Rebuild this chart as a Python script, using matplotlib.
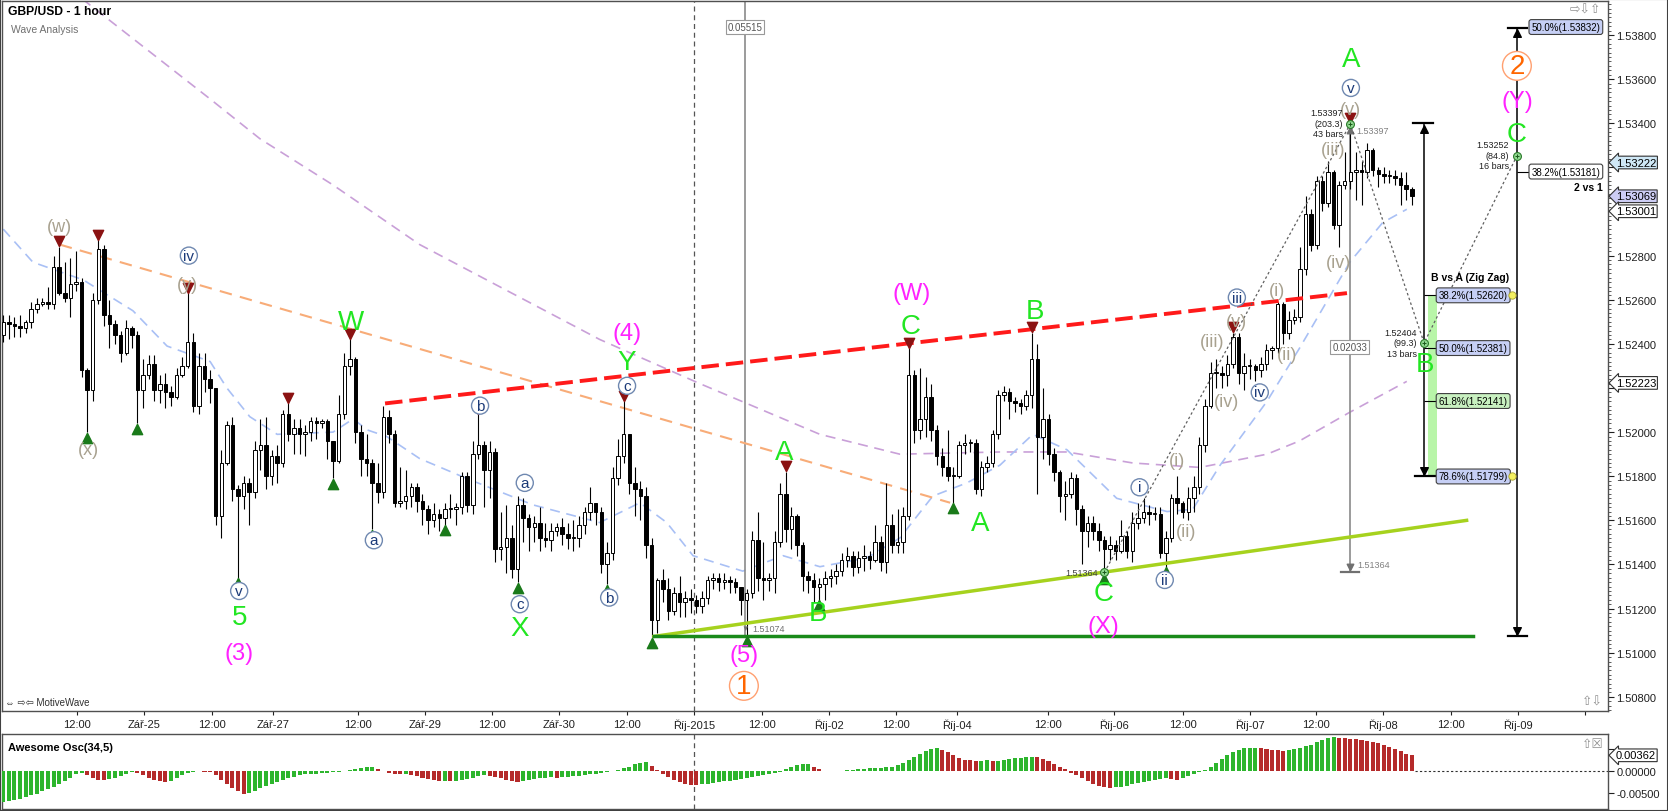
import numpy as np
import matplotlib.pyplot as plt
from matplotlib import transforms
from matplotlib.ticker import MultipleLocator

plt.rcParams['font.family'] = ['Liberation Sans', 'DejaVu Sans']
plt.rcParams['axes.unicode_minus'] = False

# GBP/USD hourly candles (open of each bar = previous close)
open_first = 1.5244
closes = [
    1.5250, 1.5249, 1.5248, 1.5247, 1.5250, 1.5256, 1.5258, 1.5259, 1.5258, 1.5275,
    1.5263, 1.5261, 1.5267, 1.5268, 1.5228, 1.5219, 1.5260, 1.5283, 1.5253, 1.5249,
    1.5244, 1.5236, 1.5247, 1.5244, 1.5219, 1.5226, 1.5231, 1.5219, 1.5222, 1.5218,
    1.5216, 1.5226, 1.5230, 1.5241, 1.5212, 1.5230, 1.5224, 1.5220, 1.5162, 1.5186,
    1.5203, 1.5174, 1.5171, 1.5177, 1.5173, 1.5192, 1.5194, 1.5180, 1.5189, 1.5186,
    1.5208, 1.5199, 1.5202, 1.5199, 1.5200, 1.5205, 1.5204, 1.5205, 1.5196, 1.5187,
    1.5208, 1.5230, 1.5233, 1.5200, 1.5188, 1.5186, 1.5177, 1.5173, 1.5207, 1.5199,
    1.5168, 1.5169, 1.5171, 1.5175,
    1.5169, 1.5165, 1.5160, 1.5163, 1.5161, 1.5165, 1.5165, 1.5166, 1.5180, 1.5167,
    1.5190, 1.5194, 1.5183, 1.5191, 1.5147, 1.5148, 1.5152, 1.5138, 1.5167, 1.5161,
    1.5157, 1.5159, 1.5152, 1.5151, 1.5155, 1.5157, 1.5154, 1.5152, 1.5152, 1.5158,
    1.5164, 1.5168, 1.5164, 1.5140, 1.5145, 1.5179, 1.5189, 1.5199, 1.5177, 1.5174,
    1.5171, 1.5149, 1.5115, 1.5133, 1.5129, 1.5119, 1.5127, 1.5123, 1.5125, 1.5124,
    1.5121, 1.5125, 1.5133, 1.5134, 1.5132, 1.5133, 1.5132, 1.5130, 1.5124, 1.5127,
    1.5151, 1.5134, 1.5133, 1.5134, 1.5150, 1.5172, 1.5156, 1.5162, 1.5149, 1.5135,
    1.5133, 1.5130, 1.5131,
    1.5134, 1.5135, 1.5137, 1.5142, 1.5144, 1.5139, 1.5143, 1.5144, 1.5142, 1.5150,
    1.5141, 1.5158, 1.5149, 1.5150, 1.5162, 1.5226, 1.5201, 1.5206, 1.5216, 1.5201,
    1.5189, 1.5184, 1.5180, 1.5180, 1.5194, 1.5195, 1.5195, 1.5174, 1.5184, 1.5186,
    1.5199, 1.5217, 1.5218, 1.5214, 1.5213, 1.5212, 1.5217, 1.5233, 1.5198, 1.5206,
    1.5190, 1.5182, 1.5171, 1.5172, 1.5179, 1.5165, 1.5155, 1.5159, 1.5155, 1.5151,
    1.5147, 1.5149, 1.5146, 1.5153, 1.5146, 1.5159, 1.5161, 1.5164, 1.5163, 1.5163,
    1.5145, 1.5152, 1.5170, 1.5168, 1.5164, 1.5170, 1.5175, 1.5194, 1.5212,
    1.5227, 1.5227, 1.5226, 1.5231, 1.5243, 1.5227, 1.5230, 1.5230, 1.5228, 1.5231,
    1.5237, 1.5238, 1.5258, 1.5245, 1.5251, 1.5252, 1.5274, 1.5299, 1.5285, 1.5314,
    1.5304, 1.5318, 1.5294, 1.5312, 1.5314, 1.5318, 1.5319, 1.5318, 1.5328, 1.5319,
    1.5317, 1.5316, 1.5316, 1.5315, 1.5312, 1.5310, 1.5307,
]
highs = [
    1.5253, 1.5253, 1.5252, 1.5253, 1.5251, 1.5259, 1.5261, 1.5261, 1.5266, 1.5280,
    1.5284, 1.5277, 1.5279, 1.5282, 1.5270, 1.5229, 1.5263, 1.5287, 1.5285, 1.5260,
    1.5251, 1.5246, 1.5251, 1.5248, 1.5246, 1.5233, 1.5235, 1.5235, 1.5226, 1.5227,
    1.5221, 1.5229, 1.5234, 1.5263, 1.5245, 1.5236, 1.5236, 1.5228, 1.5220, 1.5192,
    1.5205, 1.5207, 1.5176, 1.5180, 1.5179, 1.5196, 1.5206, 1.5207, 1.5192, 1.5194,
    1.5210, 1.5213, 1.5206, 1.5206, 1.5203, 1.5207, 1.5207, 1.5206, 1.5206, 1.5196,
    1.5217, 1.5236, 1.5242, 1.5234, 1.5203, 1.5199, 1.5188, 1.5186, 1.5212, 1.5210,
    1.5201, 1.5184, 1.5183, 1.5177,
    1.5177, 1.5172, 1.5167, 1.5168, 1.5165, 1.5168, 1.5172, 1.5168, 1.5182, 1.5182,
    1.5196, 1.5208, 1.5196, 1.5196, 1.5193, 1.5164, 1.5167, 1.5158, 1.5171, 1.5170,
    1.5163, 1.5162, 1.5166, 1.5159, 1.5159, 1.5159, 1.5161, 1.5159, 1.5160, 1.5162,
    1.5166, 1.5175, 1.5168, 1.5166, 1.5150, 1.5184, 1.5197, 1.5214, 1.5199, 1.5184,
    1.5178, 1.5175, 1.5152, 1.5134, 1.5138, 1.5134, 1.5130, 1.5135, 1.5128, 1.5129,
    1.5126, 1.5128, 1.5135, 1.5136, 1.5136, 1.5136, 1.5135, 1.5134, 1.5130, 1.5129,
    1.5155, 1.5164, 1.5150, 1.5136, 1.5155, 1.5177, 1.5182, 1.5166, 1.5163, 1.5150,
    1.5137, 1.5136, 1.5134,
    1.5137, 1.5138, 1.5140, 1.5145, 1.5148, 1.5146, 1.5146, 1.5149, 1.5146, 1.5158,
    1.5153, 1.5177, 1.5163, 1.5165, 1.5166, 1.5238, 1.5228, 1.5229, 1.5225, 1.5222,
    1.5203, 1.5193, 1.5201, 1.5184, 1.5196, 1.5199, 1.5197, 1.5197, 1.5187, 1.5189,
    1.5201, 1.5219, 1.5221, 1.5220, 1.5216, 1.5215, 1.5219, 1.5245, 1.5240, 1.5220,
    1.5208, 1.5193, 1.5183, 1.5178, 1.5182, 1.5181, 1.5167, 1.5162, 1.5162, 1.5159,
    1.5153, 1.5153, 1.5151, 1.5160, 1.5155, 1.5164, 1.5168, 1.5170, 1.5167, 1.5166,
    1.5166, 1.5155, 1.5172, 1.5180, 1.5169, 1.5175, 1.5180, 1.5198, 1.5215,
    1.5232, 1.5233, 1.5230, 1.5235, 1.5245, 1.5245, 1.5236, 1.5233, 1.5231, 1.5234,
    1.5240, 1.5239, 1.5259, 1.5259, 1.5255, 1.5256, 1.5284, 1.5307, 1.5301, 1.5316,
    1.5316, 1.5323, 1.5319, 1.5314, 1.5327, 1.5340, 1.5327, 1.5323, 1.5331, 1.5329,
    1.5320, 1.5320, 1.5319, 1.5319, 1.5318, 1.5318, 1.5311,
]
lows = [
    1.5241, 1.5242, 1.5243, 1.5243, 1.5245, 1.5247, 1.5254, 1.5257, 1.5256, 1.5256,
    1.5262, 1.5259, 1.5252, 1.5264, 1.5225, 1.5200, 1.5214, 1.5258, 1.5248, 1.5238,
    1.5240, 1.5232, 1.5235, 1.5238, 1.5204, 1.5211, 1.5224, 1.5214, 1.5213, 1.5211,
    1.5212, 1.5215, 1.5225, 1.5229, 1.5209, 1.5208, 1.5218, 1.5213, 1.5158, 1.5152,
    1.5185, 1.5169, 1.5134, 1.5165, 1.5158, 1.5170, 1.5183, 1.5174, 1.5176, 1.5177,
    1.5184, 1.5196, 1.5190, 1.5190, 1.5189, 1.5196, 1.5197, 1.5202, 1.5188, 1.5179,
    1.5186, 1.5206, 1.5226, 1.5195, 1.5180, 1.5180, 1.5156, 1.5168, 1.5170, 1.5195,
    1.5166, 1.5166, 1.5165, 1.5166,
    1.5164, 1.5158, 1.5154, 1.5157, 1.5155, 1.5158, 1.5161, 1.5158, 1.5163, 1.5164,
    1.5163, 1.5188, 1.5166, 1.5170, 1.5141, 1.5142, 1.5136, 1.5134, 1.5132, 1.5150,
    1.5146, 1.5150, 1.5146, 1.5148, 1.5146, 1.5153, 1.5149, 1.5147, 1.5146, 1.5148,
    1.5154, 1.5160, 1.5158, 1.5136, 1.5131, 1.5142, 1.5176, 1.5186, 1.5172, 1.5162,
    1.5160, 1.5143, 1.5107, 1.5109, 1.5123, 1.5115, 1.5117, 1.5116, 1.5116, 1.5118,
    1.5118, 1.5118, 1.5122, 1.5129, 1.5128, 1.5129, 1.5127, 1.5127, 1.5117, 1.5108,
    1.5125, 1.5128, 1.5124, 1.5128, 1.5127, 1.5148, 1.5150, 1.5147, 1.5144, 1.5128,
    1.5127, 1.5123, 1.5124,
    1.5124, 1.5130, 1.5131, 1.5135, 1.5139, 1.5135, 1.5136, 1.5137, 1.5138, 1.5141,
    1.5137, 1.5136, 1.5145, 1.5145, 1.5145, 1.5160, 1.5195, 1.5197, 1.5198, 1.5196,
    1.5185, 1.5180, 1.5178, 1.5168, 1.5179, 1.5190, 1.5191, 1.5172, 1.5171, 1.5182,
    1.5184, 1.5197, 1.5214, 1.5206, 1.5209, 1.5208, 1.5210, 1.5211, 1.5172, 1.5188,
    1.5185, 1.5178, 1.5164, 1.5160, 1.5170, 1.5158, 1.5140, 1.5148, 1.5151, 1.5146,
    1.5136, 1.5142, 1.5142, 1.5145, 1.5143, 1.5141, 1.5156, 1.5159, 1.5158, 1.5160,
    1.5143, 1.5139, 1.5150, 1.5163, 1.5161, 1.5160, 1.5164, 1.5172, 1.5191,
    1.5211, 1.5220, 1.5220, 1.5221, 1.5229, 1.5222, 1.5219, 1.5224, 1.5223, 1.5225,
    1.5228, 1.5233, 1.5236, 1.5240, 1.5242, 1.5249, 1.5250, 1.5271, 1.5282, 1.5283,
    1.5300, 1.5302, 1.5292, 1.5284, 1.5310, 1.5310, 1.5305, 1.5303, 1.5315, 1.5316,
    1.5311, 1.5313, 1.5313, 1.5312, 1.5303, 1.5305, 1.5303,
]

# Awesome Oscillator (34,5) histogram values
ao = [
    -0.0072, -0.0070, -0.0067, -0.0064, -0.0060, -0.0056, -0.0052, -0.0047, -0.0042, -0.0036,
    -0.0030, -0.0023, -0.0015, -0.0008, -0.0005, -0.0010, -0.0015, -0.0020, -0.0021, -0.0019,
    -0.0016, -0.0012, -0.0006, -0.0002, -0.0005, -0.0010, -0.0015, -0.0020, -0.0023, -0.0025,
    -0.0022, -0.0016, -0.0009, -0.0004, -0.0002, -0.0001, -0.0002, -0.0003, -0.0010, -0.0020,
    -0.0030, -0.0040, -0.0047, -0.0052, -0.0050, -0.0045, -0.0040, -0.0035, -0.0030, -0.0025,
    -0.0020, -0.0016, -0.0013, -0.0010, -0.0008, -0.0007, -0.0006, -0.0005, -0.0004, -0.0003,
    -0.0002, -0.0001, 0.0002, 0.0005, 0.0008, 0.0009, 0.0009, 0.0005, 0.0000, -0.0004,
    -0.0006, -0.0007, -0.0006, -0.0009, -0.0012, -0.0015, -0.0018, -0.0020, -0.0022, -0.0022,
    -0.0023, -0.0023, -0.0021, -0.0018, -0.0015, -0.0012, -0.0010, -0.0011, -0.0013, -0.0016,
    -0.0020, -0.0024, -0.0026, -0.0023, -0.0020, -0.0018, -0.0016, -0.0015, -0.0014, -0.0015,
    -0.0014, -0.0013, -0.0012, -0.0011, -0.0010, -0.0008, -0.0006, -0.0004, -0.0002, 0.0000,
    0.0003, 0.0006, 0.0010, 0.0015, 0.0019, 0.0020, 0.0012, 0.0003, -0.0006, -0.0013,
    -0.0020, -0.0026, -0.0030, -0.0032, -0.0033, -0.0031, -0.0030, -0.0028, -0.0026, -0.0024,
    -0.0022, -0.0020, -0.0018, -0.0016, -0.0014, -0.0012, -0.0010, -0.0008, -0.0005, -0.0002,
    0.0004, 0.0009, 0.0013, 0.0015, 0.0016, 0.0010, 0.0004, 0.0001, -0.0001, -0.0001,
    0.0001, 0.0002, 0.0003, 0.0004, 0.0005, 0.0006, 0.0007, 0.0008, 0.0009, 0.0010,
    0.0013, 0.0018, 0.0025, 0.0032, 0.0039, 0.0046, 0.0051, 0.0053, 0.0049, 0.0043,
    0.0036, 0.0030, 0.0026, 0.0025, 0.0024, 0.0024, 0.0025, 0.0024, 0.0024, 0.0025,
    0.0027, 0.0029, 0.0031, 0.0032, 0.0033, 0.0032, 0.0028, 0.0023, 0.0017, 0.0010,
    0.0004, -0.0004, -0.0010, -0.0017, -0.0023, -0.0029, -0.0034, -0.0037, -0.0039, -0.0038,
    -0.0036, -0.0034, -0.0031, -0.0028, -0.0025, -0.0022, -0.0020, -0.0018, -0.0017, -0.0019,
    -0.0020, -0.0016, -0.0012, -0.0008, -0.0003, 0.0003, 0.0009, 0.0018, 0.0028, 0.0037,
    0.0044, 0.0049, 0.0052, 0.0053, 0.0054, 0.0052, 0.0050, 0.0049, 0.0048, 0.0047,
    0.0048, 0.0050, 0.0053, 0.0057, 0.0061, 0.0066, 0.0071, 0.0075, 0.0078, 0.0076,
    0.0075, 0.0074, 0.0073, 0.0072, 0.0070, 0.0068, 0.0064, 0.0060, 0.0055, 0.0050,
    0.0045, 0.0040, 0.0036,
]

# time axis ticks (in bar units)
tick_pos = [13.2, 25.2, 37.3, 48.2, 63.4, 75.4, 87.4, 99.4, 111.6, 123.6, 135.7, 147.7,
            159.7, 170.6, 186.9, 198.7, 211.0, 223.0, 234.8, 246.8, 259.0, 271.0, 283.0]
tick_labels = ['12:00', 'Zář-25', '12:00', 'Zář-27', '12:00', 'Zář-29', '12:00', 'Zář-30',
               '12:00', 'Říj-2015', '12:00', 'Říj-02', '12:00', 'Říj-04', '12:00', 'Říj-06',
               '12:00', 'Říj-07', '12:00', 'Říj-08', '12:00', 'Říj-09', '']

# moving averages (bar, price)
ma_slow_x = [8.4, 14.3, 37.0, 45.9, 59.0, 74.5, 106.7, 124.6, 146.1, 160.4, 178.3, 190.3,
             202.1, 214.1, 226.1, 231.9, 240.9, 251.1]
ma_slow_y = [1.5414, 1.5396, 1.5351, 1.5333, 1.5312, 1.5285, 1.5242, 1.5222, 1.5199, 1.5190,
             1.5191, 1.5191, 1.5186, 1.5184, 1.5190, 1.5196, 1.5209, 1.5223]
ma_fast_x = [0.0, 5.3, 14.3, 23.2, 29.3, 37.0, 40.0, 44.1, 49.0, 59.0, 62.6, 65.1, 68.6, 74.5,
             82.9, 94.8, 106.7, 113.9, 118.7, 123.4, 132.3, 139.5, 146.1, 154.5, 160.4, 166.3,
             172.4, 178.3, 184.2, 190.3, 199.2, 208.2, 212.8, 217.7, 226.1, 231.9, 240.9,
             246.8, 251.1]
ma_fast_y = [1.5292, 1.5277, 1.5269, 1.5255, 1.5239, 1.5232, 1.5220, 1.5207, 1.5199, 1.5200,
             1.5206, 1.5201, 1.5198, 1.5188, 1.5179, 1.5167, 1.5159, 1.5168, 1.5159, 1.5144,
             1.5137, 1.5144, 1.5139, 1.5143, 1.5152, 1.5171, 1.5177, 1.5185, 1.5199, 1.5192,
             1.5170, 1.5164, 1.5165, 1.5185, 1.5214, 1.5238, 1.5277, 1.5295, 1.5301]

red_pivots = [10, 17, 33, 51, 62, 85, 111, 140, 162, 184, 220, 241]
green_pivots = [15, 24, 42, 59, 66, 79, 92, 108, 116, 133, 146, 170, 197, 208]

wave_labels = [
    ('(w)', 10.1, 1.5293, 'gray'), ('(x)', 15.2, 1.5192, 'gray'),
    ('iv', 33.2, 1.5280, 'circ'), ('(y)', 33.0, 1.5267, 'gray'),
    ('W', 62.2, 1.5250, 'green'), ('v', 42.2, 1.5128, 'circ'),
    ('5', 42.2, 1.5116, 'green'), ('(3)', 42.2, 1.5100, 'magenta'),
    ('a', 66.3, 1.5151, 'circ'), ('b', 85.3, 1.5212, 'circ'),
    ('c', 92.4, 1.5122, 'circ'), ('X', 92.4, 1.5111, 'green'),
    ('a', 93.3, 1.5177, 'circ'), ('b', 108.4, 1.5125, 'circ'),
    ('c', 111.6, 1.5221, 'circ'), ('Y', 111.6, 1.5232, 'green'),
    ('(4)', 111.6, 1.5245, 'magenta'), ('A', 139.8, 1.5191, 'green'),
    ('(5)', 132.5, 1.5099, 'magenta'), ('1', 132.5, 1.5085, 'orange'),
    ('B', 145.7, 1.5118, 'green'), ('(W)', 162.6, 1.5263, 'magenta'),
    ('C', 162.4, 1.5248, 'green'), ('B', 184.6, 1.5255, 'green'),
    ('A', 174.7, 1.5159, 'green'), ('C', 196.9, 1.5127, 'green'),
    ('(X)', 196.9, 1.5112, 'magenta'), ('i', 203.3, 1.5175, 'circ'),
    ('(i)', 210.0, 1.5187, 'gray'), ('ii', 207.8, 1.5133, 'circ'),
    ('(ii)', 211.7, 1.5155, 'gray'), ('(iii)', 216.2, 1.5241, 'gray'),
    ('(iv)', 218.9, 1.5214, 'gray'), ('iv', 224.8, 1.5218, 'circ'),
    ('(v)', 220.7, 1.5250, 'gray'), ('iii', 220.7, 1.5261, 'circ'),
    ('(i)', 227.9, 1.5264, 'gray'), ('(ii)', 229.6, 1.5235, 'gray'),
    ('(iii)', 237.9, 1.5328, 'gray'), ('(iv)', 238.8, 1.5277, 'gray'),
    ('(v)', 241.1, 1.5346, 'gray'), ('v', 241.1, 1.5356, 'circ'),
    ('A', 241.1, 1.5369, 'green'), ('B', 254.3, 1.5231, 'green'),
    ('C', 270.8, 1.5335, 'green'), ('(Y)', 270.8, 1.5350, 'magenta'),
    ('2', 270.8, 1.5366, 'orange'),
]

W, H = 1668, 812
fig = plt.figure(figsize=(W / 100, H / 100), dpi=100)
ax = fig.add_axes([2 / W, 1 - 712 / H, 1606 / W, 710 / H])
ax2 = fig.add_axes([2 / W, 1 - 810 / H, 1606 / W, 75 / H], sharex=ax)

x = np.arange(len(closes))
c = np.array(closes)
hi = np.array(highs)
lo = np.array(lows)
o = np.r_[open_first, c[:-1]]
up = c >= o

# candles
ax.vlines(x, np.minimum(lo, np.minimum(o, c)), np.maximum(hi, np.maximum(o, c)),
          color='black', lw=0.8, zorder=3)
ax.bar(x, np.maximum(np.abs(c - o), 0.00004), bottom=np.minimum(o, c), width=0.62,
       color=np.where(up, 'white', 'black'), edgecolor='black', linewidth=0.7, zorder=4)

# moving averages and trend lines
ax.plot(ma_slow_x, ma_slow_y, color='#c9a0d8', lw=1.2, ls=(0, (6, 4)), zorder=2)
ax.plot(ma_fast_x, ma_fast_y, color='#a9c0f5', lw=1.2, ls=(0, (6, 4)), zorder=2)
ax.plot([10.1, 169.4], [1.5285, 1.5168], color='#f8ac78', lw=1.5, ls=(0, (6, 4)), zorder=2.5)
ax.plot([68.3, 240.4], [1.5213, 1.5263], color='#ff1a1a', lw=2.8, ls=(0, (4.5, 1.8)), zorder=5)
ax.plot([116.4, 261.8], [1.51074, 1.5160], color='#a6d21e', lw=2.5, zorder=5)
ax.plot([116.4, 262.9], [1.51074, 1.51074], color='#1a8a1a', lw=2.5, zorder=5)

# pivot markers
ax.scatter(red_pivots, hi[red_pivots] + 0.00025, marker='v', s=55, color='#8b1212', zorder=6)
ax.scatter(green_pivots, lo[green_pivots] - 0.00025, marker='^', s=55, color='#1a7a1a', zorder=6)

# vertical separator at month start
for a in (ax, ax2):
    a.axvline(123.6, color='#555555', lw=0.9, ls=(0, (4, 3)), zorder=1)

small = dict(fontsize=7, zorder=9)
# measurement 1
ax.plot([132.7, 132.7], [1.5420, 1.51074], color='#8a8a8a', lw=1.2, zorder=2)
ax.text(132.7, 1.53836, '0.05515', ha='center', va='center', color='#555555',
        bbox=dict(boxstyle='square,pad=0.2', fc='white', ec='#999999', lw=0.8), **small)
ax.text(132.7, 1.51112, '▼', ha='center', va='center', color='#707070', fontsize=5.5, zorder=9)
ax.text(134.1, 1.51112, '1.51074', ha='left', va='center', color='#707070', fontsize=6.5, zorder=9)

# measurement 2
ax.plot([240.9, 240.9], [1.53397, 1.51364], color='#8a8a8a', lw=1.2, zorder=2)
ax.plot([239.3, 242.5], [1.51364, 1.51364], color='#707070', lw=1.6, zorder=2)
ax.scatter([240.9], [1.5139], marker='v', s=22, color='#707070', zorder=6)
ax.scatter([240.9], [1.5337], marker='^', s=22, color='#707070', zorder=6)
ax.text(242.0, 1.53365, '1.53397', ha='left', va='center', color='#808080', fontsize=6.5, zorder=9)
ax.text(242.2, 1.51398, '1.51364', ha='left', va='center', color='#808080', fontsize=6.5, zorder=9)
ax.text(240.9, 1.52386, '0.02033', ha='center', va='center', color='#555555',
        bbox=dict(boxstyle='square,pad=0.2', fc='white', ec='#999999', lw=0.8), **small)

# zigzag projection
zz_x = [197, 241, 254.2, 270.8]
zz_y = [1.51364, 1.53397, 1.52404, 1.53252]
ax.plot(zz_x, zz_y, color='#606060', lw=0.9, ls=(0, (2, 2)), zorder=6)
ax.scatter(zz_x, zz_y, s=32, color='#8fd88f', edgecolors='#2a7a2a', linewidths=0.8, zorder=8)
ax.scatter(zz_x, zz_y, s=12, marker='+', color='#1a5a1a', linewidths=0.7, zorder=9)
ax.text(195.8, 1.51366, '1.51364', ha='right', va='center', color='#404040', fontsize=6.5, zorder=9)
for txt, bx, py in [('1.53397\n(203.3)\n43 bars', 239.6, 1.5340),
                    ('1.52404\n(99.3)\n13 bars', 252.9, 1.52404),
                    ('1.53252\n(84.8)\n16 bars', 269.4, 1.53256)]:
    ax.text(bx, py, txt, ha='right', va='center', fontsize=6.5, linespacing=1.25,
            color='#202020', multialignment='right', zorder=9)

# B vs A fib box
ax.fill_between([254.9, 256.5], 1.51799, 1.5262, color='#b8f5a8', lw=0, zorder=1.5)
ax.plot([254.2, 254.2], [1.5340, 1.51799], color='black', lw=1.1, zorder=5)
ax.plot([252.2, 255.8], [1.5340, 1.5340], color='black', lw=1.6, zorder=5)
ax.plot([252.5, 256.1], [1.51799, 1.51799], color='black', lw=1.6, zorder=5)
ax.scatter([254.2], [1.53375], marker='^', s=30, color='black', zorder=6)
ax.scatter([254.2], [1.51822], marker='v', s=30, color='black', zorder=6)
ax.hlines([1.5262, 1.52381, 1.52141], 254.2, 256.6, color='black', lw=0.8, zorder=5)
blue_box = dict(boxstyle='round,pad=0.25', fc='#c6cff5', ec='#404040', lw=0.8)
green_box = dict(boxstyle='round,pad=0.25', fc='#c8f0c0', ec='#404040', lw=0.8)
white_box = dict(boxstyle='round,pad=0.25', fc='white', ec='#404040', lw=0.8)
ax.text(256.8, 1.5262, '38.2%(1.52620)', va='center', bbox=blue_box, **small)
ax.text(256.8, 1.52381, '50.0%(1.52381)', va='center', bbox=blue_box, **small)
ax.text(256.8, 1.52141, '61.8%(1.52141)', va='center', bbox=green_box, **small)
ax.text(256.8, 1.51799, '78.6%(1.51799)', va='center', bbox=blue_box, **small)
ax.scatter([270.0, 270.0], [1.5262, 1.51799], s=28, color='#f4f060', edgecolors='#a8a030',
           linewidths=0.6, zorder=10)
ax.text(262.4, 1.52703, 'B vs A (Zig Zag)', ha='center', va='center', fontsize=7.5,
        weight='bold', zorder=9)

# 2 vs 1 fib
ax.plot([270.8, 270.8], [1.53832, 1.51074], color='black', lw=1.1, zorder=5)
ax.plot([269.2, 272.6], [1.53832, 1.53832], color='black', lw=1.6, zorder=5)
ax.plot([269.2, 272.6], [1.51074, 1.51074], color='black', lw=1.6, zorder=5)
ax.scatter([270.8], [1.53807], marker='^', s=30, color='black', zorder=6)
ax.scatter([270.8], [1.51099], marker='v', s=30, color='black', zorder=6)
ax.hlines([1.53181], 270.8, 273.2, color='black', lw=0.8, zorder=5)
ax.text(273.4, 1.53836, '50.0%(1.53832)', va='center', bbox=blue_box, **small)
ax.text(273.4, 1.53181, '38.2%(1.53181)', va='center', bbox=white_box, **small)
ax.text(286.2, 1.53111, '2 vs 1', ha='right', va='center', fontsize=7.5, weight='bold', zorder=9)

# wave labels
styles = {
    'green': dict(color='#22e622', fontsize=20),
    'magenta': dict(color='#ff22ff', fontsize=17),
    'gray': dict(color='#a8a18f', fontsize=13),
    'circ': dict(color='#1b3a78', fontsize=11,
                 bbox=dict(boxstyle='circle,pad=0.1', fc='white', ec='#6f88b0', lw=1.0)),
    'orange': dict(color='#ff6600', fontsize=20,
                   bbox=dict(boxstyle='circle,pad=0.05', fc='white', ec='#ffa070', lw=1.0)),
}
for txt, bx, py, kind in wave_labels:
    ax.text(bx, py, txt, ha='center', va='center', zorder=7, **styles[kind])

ax.set_xlim(-0.23, 287.1)
ax.set_ylim(1.50736, 1.53954)
ax.yaxis.tick_right()
yt = np.arange(1.508, 1.5381, 0.002)
# labels at 1.532 and 1.522 sit under the value tags, as in the source
yt_lab = ['' if abs(v - 1.532) < 1e-6 or abs(v - 1.522) < 1e-6 else '%.5f' % v for v in yt]
ax.set_yticks(yt, yt_lab)
ax.yaxis.set_minor_locator(MultipleLocator(0.0002))
ax.tick_params(axis='y', which='major', length=4.5, width=0.8, pad=1.5, labelsize=8,
               colors='#202020')
ax.tick_params(axis='y', which='minor', length=2, width=0.6, colors='#404040')
ax.set_xticks(tick_pos, tick_labels)
ax.tick_params(axis='x', length=3, width=0.8, pad=2.5, labelsize=8, colors='#202020')

# right-axis value tags
tr = transforms.blended_transform_factory(ax.transAxes, ax.transData)
tags = [(1.53222, '1.53222', '#cfe8f6'), (1.53069, '1.53069', '#cdcdf4'),
        (1.53001, '1.53001', 'white'), (1.52223, '1.52223', 'white')]
for i, (pv, txt, fc) in enumerate(tags):
    ax.text(1.0048, pv, txt, transform=tr, va='center', ha='left', fontsize=8, clip_on=False,
            zorder=20 + i, bbox=dict(boxstyle='larrow,pad=0.12', fc=fc, ec='#303030', lw=0.8))

# oscillator panel
ao_arr = np.array(ao)
ao_col = ['#2db52d' if i == 0 or ao_arr[i] >= ao_arr[i - 1] else '#b52a2a' for i in range(len(ao))]
ax2.bar(x, ao_arr, width=0.72, color=ao_col, zorder=3)
ax2.plot([252.5, 287.1], [0, 0], color='#303030', lw=0.8, ls=(0, (2, 2)), zorder=2)
ax2.set_ylim(-0.00876, 0.00853)
ax2.yaxis.tick_right()
ax2.set_yticks([-0.005, 0, 0.005], ['-0.00500', '0.00000', ''])
ax2.tick_params(axis='y', length=4.5, width=0.8, pad=1.5, labelsize=8, colors='#202020')
ax2.tick_params(axis='x', length=0, labelbottom=False)
tr2 = transforms.blended_transform_factory(ax2.transAxes, ax2.transData)
ax2.text(1.0048, 0.00362, '0.00362', transform=tr2, va='center', ha='left', fontsize=8,
         clip_on=False, zorder=20,
         bbox=dict(boxstyle='larrow,pad=0.12', fc='white', ec='#303030', lw=0.8))

for a in (ax, ax2):
    for s in a.spines.values():
        s.set_color('#505050')
        s.set_linewidth(1.0)

# header and panel captions
fig.text(8 / W, 1 - 12 / H, 'GBP/USD - 1 hour', fontsize=8.7, weight='bold', va='center')
fig.text(11 / W, 1 - 30 / H, 'Wave Analysis', fontsize=7.5, color='#707070', va='center')
fig.text(5 / W, 1 - 703 / H, '⇔ ⇨⇦ MotiveWave', fontsize=7, color='#303030', va='center')
fig.text(8 / W, 1 - 748 / H, 'Awesome Osc(34,5)', fontsize=8, weight='bold', va='center')
fig.text(1570 / W, 1 - 11 / H, '⇨⇩⇧', fontsize=9, color='#909090', va='center')
fig.text(1582 / W, 1 - 703 / H, '⇧⇩', fontsize=9, color='#909090', va='center')
fig.text(1582 / W, 1 - 745 / H, '⇧☒', fontsize=9, color='#909090', va='center')
fig.patches.append(plt.Rectangle((0, 0), 1, 1, transform=fig.transFigure, fill=False,
                                 ec='#404040', lw=1.5))

fig.savefig('out.png', dpi=100)
